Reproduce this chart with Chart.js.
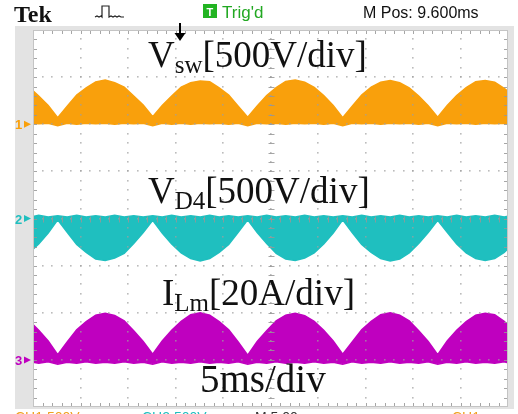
<!DOCTYPE html>
<html>
<head>
<meta charset="utf-8">
<script src="https://cdn.jsdelivr.net/npm/chart.js@4.4.1/dist/chart.umd.min.js"></script>
<style>
  html, body { margin: 0; padding: 0; background: #ffffff; }
  #wrap { position: relative; width: 518px; height: 414px; }
</style>
</head>
<body>
<div id="wrap"><canvas id="scope"></canvas></div>
<script>
// time axis in ms (5 ms/div, 10 div), values in divisions (8 div tall)
const timeMs = [0, 0.6, 1.6, 2.6, 3.6, 4.6, 5.6, 6.6, 7.6, 8.6, 9.6,
  10.6, 11.6, 12.6, 13.6, 14.6, 15.6, 16.6, 17.6, 18.6, 19.6,
  20.6, 21.6, 22.6, 23.6, 24.6, 25.6, 26.6, 27.6, 28.6, 29.6,
  30.6, 31.6, 32.6, 33.6, 34.6, 35.6, 36.6, 37.6, 38.6, 39.6,
  40.6, 41.6, 42.6, 43.6, 44.6, 45.6, 46.6, 47.6, 48.6, 49.6, 50];

// CH1 Vsw
const ch1Top = [2.71, 2.60, 2.40, 2.14, 2.38, 2.62, 2.77, 2.90, 2.94, 2.88, 2.79,
  2.60, 2.41, 2.16, 2.40, 2.60, 2.79, 2.88, 2.92, 2.90, 2.77,
  2.62, 2.38, 2.15, 2.39, 2.61, 2.78, 2.91, 2.94, 2.89, 2.78,
  2.61, 2.40, 2.14, 2.38, 2.62, 2.79, 2.89, 2.93, 2.88, 2.77,
  2.60, 2.39, 2.15, 2.40, 2.61, 2.78, 2.90, 2.93, 2.89, 2.76, 2.70];
const ch1Bottom = [2.02, 2.01, 2.02, 1.97, 2.02, 2.00, 2.02, 2.01, 2.02, 2.00, 2.02,
  2.01, 2.02, 1.97, 2.02, 2.00, 2.02, 2.00, 2.02, 2.01, 2.02,
  2.00, 2.02, 1.97, 2.02, 2.01, 2.02, 2.00, 2.02, 2.01, 2.02,
  2.00, 2.02, 1.97, 2.02, 2.01, 2.02, 2.00, 2.02, 2.01, 2.02,
  2.00, 2.02, 1.97, 2.02, 2.01, 2.02, 2.00, 2.02, 2.01, 2.02, 2.01];

// CH2 VD4
const ch2Top = [0.04, 0.07, 0.03, 0.06, 0.03, 0.07, 0.03, 0.06, 0.03, 0.07, 0.03,
  0.06, 0.03, 0.06, 0.03, 0.07, 0.03, 0.06, 0.03, 0.07, 0.03,
  0.06, 0.03, 0.06, 0.03, 0.07, 0.03, 0.06, 0.03, 0.07, 0.03,
  0.06, 0.03, 0.06, 0.03, 0.07, 0.03, 0.06, 0.03, 0.07, 0.03,
  0.06, 0.03, 0.06, 0.03, 0.07, 0.03, 0.06, 0.03, 0.07, 0.03, 0.05];
const ch2Bottom = [-0.65, -0.54, -0.31, -0.03, -0.29, -0.55, -0.72, -0.86, -0.89, -0.84, -0.74,
  -0.53, -0.30, -0.04, -0.31, -0.54, -0.73, -0.85, -0.90, -0.85, -0.72,
  -0.55, -0.29, -0.03, -0.30, -0.53, -0.74, -0.86, -0.89, -0.84, -0.73,
  -0.54, -0.31, -0.03, -0.30, -0.55, -0.72, -0.85, -0.90, -0.86, -0.73,
  -0.53, -0.30, -0.04, -0.29, -0.54, -0.73, -0.85, -0.89, -0.85, -0.72, -0.64];

// CH3 ILm
const ch3Top = [-2.25, -2.37, -2.60, -2.89, -2.62, -2.36, -2.19, -2.05, -2.01, -2.06, -2.17,
  -2.38, -2.61, -2.88, -2.60, -2.37, -2.18, -2.04, -2.00, -2.05, -2.19,
  -2.36, -2.62, -2.90, -2.61, -2.38, -2.17, -2.05, -2.01, -2.06, -2.18,
  -2.37, -2.60, -2.88, -2.62, -2.36, -2.18, -2.04, -2.00, -2.05, -2.17,
  -2.38, -2.61, -2.89, -2.60, -2.37, -2.19, -2.05, -2.01, -2.04, -2.18, -2.26];
const ch3Bottom = [-3.05, -3.07, -3.04, -3.09, -3.05, -3.07, -3.04, -3.07, -3.05, -3.07, -3.04,
  -3.07, -3.05, -3.09, -3.04, -3.07, -3.05, -3.07, -3.04, -3.07, -3.05,
  -3.07, -3.04, -3.09, -3.05, -3.07, -3.04, -3.07, -3.05, -3.07, -3.04,
  -3.07, -3.05, -3.09, -3.04, -3.07, -3.05, -3.07, -3.04, -3.07, -3.05,
  -3.07, -3.04, -3.09, -3.05, -3.07, -3.04, -3.07, -3.05, -3.07, -3.04, -3.06];

const channelLevels = [2.0, 0.0, -3.0];
const channelNames = ["1", "2", "3"];
const channelColors = ["#f9a00c", "#1fbfbf", "#bf00bf"];

const serif = "'Liberation Serif', 'Times New Roman', serif";
const sans = "'Liberation Sans', Arial, sans-serif";

function points(arr) {
  return timeMs.map((t, i) => ({ x: t, y: arr[i] }));
}

function band(top, bottom, color) {
  return [
    { data: points(bottom), borderColor: color, backgroundColor: color, borderWidth: 1.5, pointRadius: 0, fill: false },
    { data: points(top), borderColor: color, backgroundColor: color, borderWidth: 1.5, pointRadius: 0, fill: "-1" },
  ];
}

const frame = {
  id: "frame",
  beforeDraw(chart) {
    const { ctx, chartArea: a } = chart;
    ctx.save();
    ctx.fillStyle = "#ffffff";
    ctx.fillRect(0, 0, chart.width, chart.height);
    ctx.fillStyle = "#e3e3e3";
    ctx.fillRect(15, 26, 499, 383);
    ctx.fillStyle = "#ffffff";
    ctx.fillRect(a.left, a.top, a.right - a.left, a.bottom - a.top);
    ctx.restore();
  },
};

const graticule = {
  id: "graticule",
  afterDatasetsDraw(chart) {
    const { ctx, chartArea: a, scales } = chart;
    const x = scales.x;
    const y = scales.y;
    ctx.save();
    ctx.fillStyle = "rgba(160,160,160,0.7)";
    // dotted division lines
    for (let i = 1; i < 10; i++) {
      const px = Math.round(x.getPixelForValue(i * 5));
      for (let k = 1; k < 40; k++) {
        const py = Math.round(y.getPixelForValue(-4 + k * 0.2));
        ctx.fillRect(px - 1, py - 1, 1.6, 1.6);
      }
    }
    for (let j = -3; j <= 3; j++) {
      const py = Math.round(y.getPixelForValue(j));
      for (let k = 1; k < 50; k++) {
        const px = Math.round(x.getPixelForValue(k));
        ctx.fillRect(px - 1, py - 1, 1.6, 1.6);
      }
    }
    // minor ticks on border and centre lines
    ctx.strokeStyle = "rgba(150,150,150,0.85)";
    ctx.lineWidth = 1;
    ctx.beginPath();
    const cx = Math.round(x.getPixelForValue(25)) + 0.5;
    const cy = Math.round(y.getPixelForValue(0)) + 0.5;
    for (let k = 1; k < 50; k++) {
      const px = Math.round(x.getPixelForValue(k)) + 0.5;
      ctx.moveTo(px, a.top); ctx.lineTo(px, a.top + 4);
      ctx.moveTo(px, a.bottom); ctx.lineTo(px, a.bottom - 4);
      ctx.moveTo(px, cy - 3); ctx.lineTo(px, cy + 3);
    }
    for (let k = 1; k < 40; k++) {
      const py = Math.round(y.getPixelForValue(-4 + k * 0.2)) + 0.5;
      ctx.moveTo(a.left, py); ctx.lineTo(a.left + 4, py);
      ctx.moveTo(a.right, py); ctx.lineTo(a.right - 4, py);
      ctx.moveTo(cx - 3, py); ctx.lineTo(cx + 3, py);
    }
    ctx.stroke();
    ctx.strokeStyle = "#c4c4c4";
    ctx.strokeRect(a.left + 0.5, a.top + 0.5, a.right - a.left - 1, a.bottom - a.top - 1);
    ctx.restore();
  },
};

function subText(ctx, x, yBase, main, sub, rest, size) {
  ctx.font = size + "px " + serif;
  ctx.fillText(main, x, yBase);
  x += ctx.measureText(main).width;
  ctx.font = Math.round(size * 0.68) + "px " + serif;
  ctx.fillText(sub, x, yBase + 6);
  x += ctx.measureText(sub).width;
  ctx.font = size + "px " + serif;
  ctx.fillText(rest, x, yBase);
}

const labels = {
  id: "labels",
  afterDraw(chart) {
    const { ctx, scales } = chart;
    const y = scales.y;
    ctx.save();
    ctx.textBaseline = "alphabetic";

    // header
    ctx.fillStyle = "#111111";
    ctx.font = "bold 24px " + serif;
    ctx.fillText("Tek", 14, 22);

    ctx.strokeStyle = "#222222";
    ctx.lineWidth = 1.2;
    ctx.beginPath();
    ctx.moveTo(95, 17); ctx.lineTo(97, 16); ctx.lineTo(99, 17); ctx.lineTo(101, 16);
    ctx.lineTo(102, 17); ctx.lineTo(102, 6); ctx.lineTo(109, 6); ctx.lineTo(109, 17);
    ctx.lineTo(111, 16); ctx.lineTo(113, 17); ctx.lineTo(115, 16); ctx.lineTo(117, 17);
    ctx.lineTo(119, 16); ctx.lineTo(121, 17); ctx.lineTo(124, 17);
    ctx.stroke();

    ctx.fillStyle = "#22b422";
    ctx.fillRect(203, 4, 14, 14);
    ctx.fillStyle = "#ffffff";
    ctx.font = "bold 11px " + sans;
    ctx.fillText("T", 206.5, 15.5);
    ctx.fillStyle = "#22a822";
    ctx.font = "17px " + sans;
    ctx.fillText("Trig'd", 222, 18);
    ctx.fillStyle = "#111111";
    ctx.font = "16px " + sans;
    ctx.fillText("M Pos: 9.600ms", 363, 18);

    // trigger position arrow
    ctx.strokeStyle = "#000000";
    ctx.lineWidth = 2;
    ctx.beginPath();
    ctx.moveTo(180, 23); ctx.lineTo(180, 34);
    ctx.stroke();
    ctx.fillStyle = "#000000";
    ctx.beginPath();
    ctx.moveTo(174.5, 33); ctx.lineTo(185.5, 33); ctx.lineTo(180, 41); ctx.closePath();
    ctx.fill();

    // channel ground markers
    ctx.font = "bold 13px " + sans;
    channelLevels.forEach((lvl, i) => {
      const py = y.getPixelForValue(lvl);
      ctx.fillStyle = channelColors[i];
      ctx.fillText(channelNames[i], 15, py + 5);
      ctx.beginPath();
      ctx.moveTo(24, py - 3.5); ctx.lineTo(31, py); ctx.lineTo(24, py + 3.5); ctx.closePath();
      ctx.fill();
    });

    // annotations
    ctx.fillStyle = "#111111";
    subText(ctx, 148, 67, "V", "sw", "[500V/div]", 37);
    subText(ctx, 148, 203, "V", "D4", "[500V/div]", 37);
    subText(ctx, 162, 305, "I", "Lm", "[20A/div]", 37);
    ctx.font = "39px " + serif;
    ctx.fillText("5ms/div", 200, 392);

    // readout row, cut by the bottom edge
    ctx.textBaseline = "top";
    ctx.font = "14px " + sans;
    ctx.fillStyle = "#f0a020";
    ctx.fillText("CH1 500V", 15, 411);
    ctx.fillStyle = "#1fbfbf";
    ctx.fillText("CH2 500V", 142, 411);
    ctx.fillStyle = "#333333";
    ctx.fillText("M 5.00ms", 255, 411);
    ctx.fillStyle = "#f0a020";
    ctx.fillText("CH1", 452, 411);
    ctx.restore();
  },
};

const datasets = [
  ...band(ch1Top, ch1Bottom, channelColors[0]),
  ...band(ch2Top, ch2Bottom, channelColors[1]),
  ...band(ch3Top, ch3Bottom, channelColors[2]),
];

new Chart(document.getElementById("scope"), {
  type: "line",
  data: { datasets: datasets },
  options: {
    responsive: true,
    maintainAspectRatio: false,
    animation: false,
    events: [],
    layout: { padding: { left: 33, right: 10, top: 30, bottom: 7 } },
    elements: { line: { tension: 0 } },
    plugins: { legend: { display: false }, tooltip: { enabled: false } },
    scales: {
      x: { type: "linear", min: 0, max: 50, display: false },
      y: { type: "linear", min: -4, max: 4, display: false },
    },
  },
  plugins: [frame, graticule, labels],
});
</script>
</body>
</html>
